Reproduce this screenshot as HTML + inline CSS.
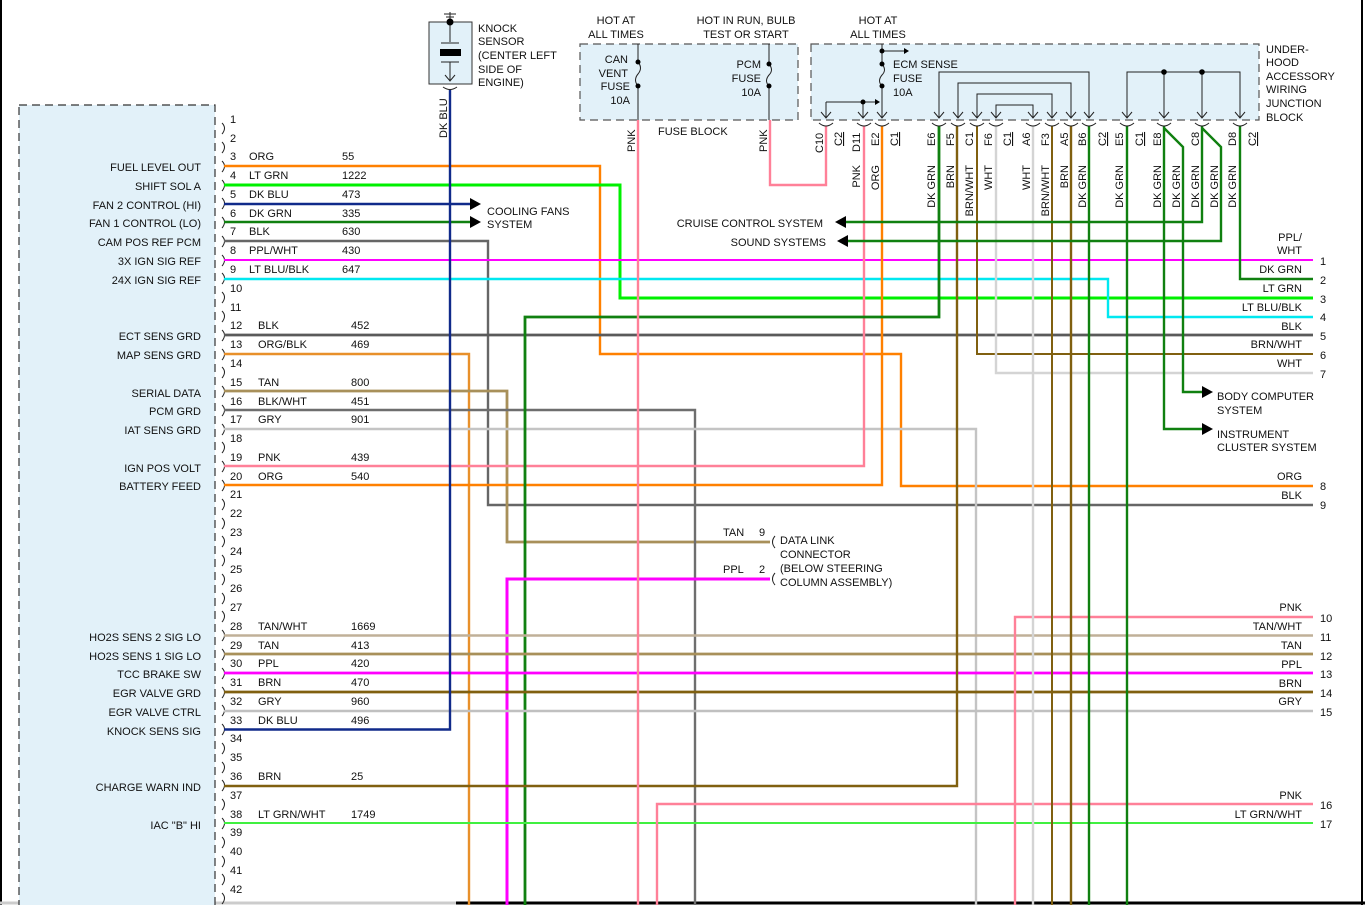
<!DOCTYPE html>
<html><head><meta charset="utf-8"><style>
html,body{margin:0;padding:0;background:#fff;}
svg{display:block;}
text{font-family:"Liberation Sans",sans-serif;font-size:11px;fill:#111;}
.r{text-anchor:end;}
.m{text-anchor:middle;}
.w{fill:none;stroke-width:2.4;}
</style></head><body>
<svg width="1365" height="905" viewBox="0 0 1365 905" xmlns="http://www.w3.org/2000/svg">
<rect x="0" y="0" width="1365" height="905" fill="#fff"/>
<!-- borders -->
<line x1="1" y1="0" x2="1" y2="905" stroke="#000" stroke-width="2"/>
<line x1="1362" y1="0" x2="1362" y2="905" stroke="#000" stroke-width="2"/>
<line x1="0" y1="903" x2="456" y2="903" stroke="#ccc" stroke-width="3"/>
<line x1="456" y1="903" x2="1365" y2="903" stroke="#000" stroke-width="3"/>

<!-- PCM box -->
<rect x="19" y="105" width="196" height="810" fill="#e2f1f9" stroke="#333" stroke-width="1.2" stroke-dasharray="8,5"/>
<!-- fuse block box -->
<rect x="580" y="44" width="218" height="76" fill="#e2f1f9" stroke="#555" stroke-width="1.2" stroke-dasharray="8,5"/>
<!-- underhood box -->
<rect x="811" y="44" width="448" height="76" fill="#e2f1f9" stroke="#555" stroke-width="1.2" stroke-dasharray="8,5"/>
<!-- knock sensor box -->
<rect x="429" y="22" width="43" height="62" fill="#e2f1f9" stroke="#333" stroke-width="1"/>

<!-- left pin notches -->
<g fill="none" stroke="#222" stroke-width="1">
<path d="M222,123 q5,5 0,11 M222,142 q5,5 0,11 M222,161 q5,5 0,11 M222,180 q5,5 0,11 M222,198 q5,5 0,11 M222,217 q5,5 0,11 M222,236 q5,5 0,11 M222,255 q5,5 0,11 M222,273 q5,5 0,11 M222,292 q5,5 0,11 M222,311 q5,5 0,11 M222,330 q5,5 0,11 M222,349 q5,5 0,11 M222,367 q5,5 0,11 M222,386 q5,5 0,11 M222,405 q5,5 0,11 M222,424 q5,5 0,11 M222,442 q5,5 0,11 M222,461 q5,5 0,11 M222,480 q5,5 0,11 M222,499 q5,5 0,11 M222,518 q5,5 0,11 M222,536 q5,5 0,11 M222,555 q5,5 0,11 M222,574 q5,5 0,11 M222,593 q5,5 0,11 M222,611 q5,5 0,11 M222,630 q5,5 0,11 M222,649 q5,5 0,11 M222,668 q5,5 0,11 M222,687 q5,5 0,11 M222,705 q5,5 0,11 M222,724 q5,5 0,11 M222,743 q5,5 0,11 M222,762 q5,5 0,11 M222,780 q5,5 0,11 M222,799 q5,5 0,11 M222,818 q5,5 0,11 M222,837 q5,5 0,11 M222,856 q5,5 0,11 M222,874 q5,5 0,11 M222,893 q5,5 0,11"/>
</g>

<!-- wires -->
<g class="w">
<polyline points="224,166 600,166 600,354 901,354 901,486 1313,486" stroke="#ff8000"/>
<polyline points="224,185 620,185 620,298 1313,298" stroke="#00f000" stroke-width="3"/>
<polyline points="224,204 472,204" stroke="#102a8a"/>
<polyline points="224,222 472,222" stroke="#108010"/>
<polyline points="224,241 488,241 488,505 1313,505" stroke="#666"/>
<polyline points="224,260 1313,260" stroke="#ff00ff" stroke-width="2"/>
<polyline points="224,279 1108,279 1108,317 1313,317" stroke="#00e8f0"/>
<polyline points="224,335 1313,335" stroke="#5a5a5a" stroke-width="2.8"/>
<polyline points="224,354 469,354 469,905" stroke="#e8902a"/>
<polyline points="224,391 507,391 507,542 770,542" stroke="#a8905a" stroke-width="2.8"/>
<polyline points="224,410 695,410 695,905" stroke="#6e6e6e"/>
<polyline points="224,429 976,429 976,905" stroke="#c4c4c4"/>
<polyline points="224,466 864,466 864,126" stroke="#ff8098"/>
<polyline points="224,485 882,485 882,126" stroke="#ff8000"/>
<polyline points="939,126 939,317 525,317 525,905" stroke="#108010" stroke-width="2.8"/>
<polyline points="770,579 507,579 507,905" stroke="#ff00ff" stroke-width="3"/>
<polyline points="224,635.5 1313,635.5" stroke="#c0b098"/>
<polyline points="224,654 1313,654" stroke="#a8905a" stroke-width="2.8"/>
<polyline points="224,673 1313,673" stroke="#ff00ff" stroke-width="2.8"/>
<polyline points="224,692 1313,692" stroke="#806010" stroke-width="2.8"/>
<polyline points="224,711 1313,711" stroke="#c0c0c0"/>
<polyline points="224,729.5 450,729.5 450,90" stroke="#102a8a"/>
<polyline points="224,786 957,786 957,126" stroke="#806010"/>
<polyline points="224,823 1313,823" stroke="#40f040" stroke-width="2"/>
<polyline points="657,905 657,804 1313,804" stroke="#ff8098"/>
<polyline points="1015,905 1015,617 1313,617" stroke="#ff8098"/>
<polyline points="977,126 977,354 1313,354" stroke="#806010" stroke-width="2"/>
<polyline points="996,126 996,373 1313,373" stroke="#d4d4d4"/>
<polyline points="1033,126 1033,905" stroke="#d4d4d4"/>
<polyline points="1052,126 1052,905" stroke="#806010" stroke-width="2"/>
<polyline points="1071,126 1071,905" stroke="#806010"/>
<polyline points="1089,126 1089,905" stroke="#108010"/>
<polyline points="1127,126 1127,905" stroke="#108010"/>
<polyline points="1164,126 1164,429 1203,429" stroke="#108010"/>
<polyline points="1164,128 1183,147 1183,392 1203,392" stroke="#108010"/>
<polyline points="1202,126 1202,222 846,222" stroke="#108010"/>
<polyline points="1202,128 1221,147 1221,241 848,241" stroke="#108010"/>
<polyline points="1240,126 1240,279 1313,279" stroke="#108010"/>
<polyline points="638,120 638,905" stroke="#ff8098"/>
<polyline points="770,120 770,185 826,185 826,126" stroke="#ff8098"/>
</g>

<!-- arrows -->
<g fill="#000">
<polygon points="470,198 481,204 470,210"/>
<polygon points="470,216 481,222 470,228"/>
<polygon points="846,216 835,222 846,228"/>
<polygon points="848,235 837,241 848,247"/>
<polygon points="1202,386 1213,392 1202,398"/>
<polygon points="1202,423 1213,429 1202,435"/>
</g>

<!-- knock sensor internals -->
<g stroke="#222" stroke-width="1" fill="none">
<line x1="450" y1="12" x2="450" y2="42"/>
<line x1="444" y1="14" x2="456" y2="14"/><line x1="446" y1="17" x2="454" y2="17"/><line x1="448" y1="20" x2="452" y2="20"/>
<line x1="441" y1="43" x2="459" y2="43"/>
<line x1="441" y1="62" x2="459" y2="62"/>
<line x1="450" y1="62" x2="450" y2="80"/>
<path d="M445,75 L450,81 L455,75"/>
<path d="M443,87 q7,5 14,0"/>
</g>
<circle cx="450" cy="22" r="3.5" fill="#000"/>
<rect x="440" y="49" width="21" height="7" fill="#000"/>

<!-- fuse block internals -->
<g stroke="#222" stroke-width="1" fill="none">
<line x1="638" y1="44" x2="638" y2="62"/><path d="M638,62 q5,6 0,12 q-5,6 0,12"/><line x1="638" y1="86" x2="638" y2="120"/>
<line x1="769" y1="44" x2="769" y2="64"/><path d="M769,64 q5,6 0,11 q-5,6 0,11"/><line x1="769" y1="86" x2="769" y2="120"/>
<line x1="882" y1="44" x2="882" y2="64"/><path d="M882,64 q5,6 0,11 q-5,6 0,11"/><line x1="882" y1="86" x2="882" y2="117"/>
<line x1="882" y1="51" x2="904" y2="51"/>
<line x1="826" y1="102" x2="876" y2="102"/>
<line x1="826" y1="102" x2="826" y2="117"/><line x1="863" y1="102" x2="863" y2="117"/>
<!-- junction bars -->
<polyline points="939,117 939,72 1089,72 1089,117"/>
<polyline points="958,117 958,83 1071,83 1071,117"/>
<polyline points="977,117 977,94 1052,94 1052,117"/>
<polyline points="996,117 996,105 1033,105 1033,117"/>
<polyline points="1127,117 1127,72 1240,72 1240,117"/>
<line x1="1164" y1="72" x2="1164" y2="117"/><line x1="1202" y1="72" x2="1202" y2="117"/>
<!-- down arrow chevrons -->
<path d="M821,112 l5,6 l5,-6 M858,112 l5,6 l5,-6 M877,112 l5,6 l5,-6 M934,112 l5,6 l5,-6 M953,112 l5,6 l5,-6 M972,112 l5,6 l5,-6 M991,112 l5,6 l5,-6 M1028,112 l5,6 l5,-6 M1047,112 l5,6 l5,-6 M1066,112 l5,6 l5,-6 M1084,112 l5,6 l5,-6 M1122,112 l5,6 l5,-6 M1159,112 l5,6 l5,-6 M1197,112 l5,6 l5,-6 M1235,112 l5,6 l5,-6"/>
<!-- notches under box -->
<path d="M819,123 q7,6 14,0 M857,123 q7,6 14,0 M875,123 q7,6 14,0 M932,123 q7,6 14,0 M951,123 q7,6 14,0 M970,123 q7,6 14,0 M989,123 q7,6 14,0 M1026,123 q7,6 14,0 M1045,123 q7,6 14,0 M1064,123 q7,6 14,0 M1082,123 q7,6 14,0 M1120,123 q7,6 14,0 M1157,123 q7,6 14,0 M1195,123 q7,6 14,0 M1233,123 q7,6 14,0"/>
<!-- DLC brackets -->
<path d="M775,536 q-5,6 0,12 M775,573 q-5,6 0,12"/>
</g>
<g fill="#000">
<circle cx="638" cy="62" r="2.5"/><circle cx="638" cy="86" r="2.5"/>
<circle cx="769" cy="64" r="2.5"/><circle cx="769" cy="86" r="2.5"/>
<circle cx="882" cy="51" r="2.5"/><circle cx="882" cy="64" r="2.5"/><circle cx="882" cy="86" r="2.5"/>
<circle cx="863" cy="102" r="2.5"/>
<circle cx="1164" cy="72" r="2.8"/><circle cx="1202" cy="72" r="2.8"/>
<polygon points="904,48 909,51 904,54"/>
<polygon points="875,99 880,102 875,105"/>
</g>

<!-- header texts -->
<text x="616" y="24" class="m">HOT AT</text><text x="616" y="38" class="m">ALL TIMES</text>
<text x="746" y="24" class="m">HOT IN RUN, BULB</text><text x="746" y="38" class="m">TEST OR START</text>
<text x="878" y="24" class="m">HOT AT</text><text x="878" y="38" class="m">ALL TIMES</text>
<text x="628" y="63" class="r">CAN</text><text x="628" y="77" class="r">VENT</text><text x="630" y="90" class="r">FUSE</text><text x="630" y="104" class="r">10A</text>
<text x="761" y="68" class="r">PCM</text><text x="761" y="82" class="r">FUSE</text><text x="761" y="96" class="r">10A</text>
<text x="658" y="135">FUSE BLOCK</text>
<text x="893" y="68">ECM SENSE</text><text x="893" y="82">FUSE</text><text x="893" y="96">10A</text>
<text x="1266" y="53">UNDER-</text><text x="1266" y="66">HOOD</text><text x="1266" y="80">ACCESSORY</text><text x="1266" y="93">WIRING</text><text x="1266" y="107">JUNCTION</text><text x="1266" y="121">BLOCK</text>
<text x="478" y="32">KNOCK</text><text x="478" y="45">SENSOR</text><text x="478" y="59">(CENTER LEFT</text><text x="478" y="73">SIDE OF</text><text x="478" y="86">ENGINE)</text>

<!-- rotated labels -->
<g>
<text transform="translate(447,138) rotate(-90)">DK BLU</text>
<text transform="translate(635,152) rotate(-90)">PNK</text>
<text transform="translate(767,152) rotate(-90)">PNK</text>
<text transform="translate(823,153) rotate(-90)">C10</text>
<text transform="translate(842,146) rotate(-90)" text-decoration="underline">C2</text>
<text transform="translate(860,152) rotate(-90)">D11</text>
<text transform="translate(879,146) rotate(-90)">E2</text>
<text transform="translate(898,146) rotate(-90)" text-decoration="underline">C1</text>
<text transform="translate(935,146) rotate(-90)">E6</text>
<text transform="translate(954,146) rotate(-90)">F5</text>
<text transform="translate(973,146) rotate(-90)">C1</text>
<text transform="translate(992,146) rotate(-90)">F6</text>
<text transform="translate(1011,146) rotate(-90)" text-decoration="underline">C1</text>
<text transform="translate(1030,146) rotate(-90)">A6</text>
<text transform="translate(1049,146) rotate(-90)">F3</text>
<text transform="translate(1068,146) rotate(-90)">A5</text>
<text transform="translate(1086,146) rotate(-90)">B6</text>
<text transform="translate(1106,146) rotate(-90)" text-decoration="underline">C2</text>
<text transform="translate(1123,146) rotate(-90)">E5</text>
<text transform="translate(1143,146) rotate(-90)" text-decoration="underline">C1</text>
<text transform="translate(1161,146) rotate(-90)">E8</text>
<text transform="translate(1199,146) rotate(-90)">C8</text>
<text transform="translate(1236,146) rotate(-90)">D8</text>
<text transform="translate(1256,146) rotate(-90)" text-decoration="underline">C2</text>
<text transform="translate(860,165) rotate(-90)" class="r">PNK</text>
<text transform="translate(879,165) rotate(-90)" class="r">ORG</text>
<text transform="translate(935,165) rotate(-90)" class="r">DK GRN</text>
<text transform="translate(954,165) rotate(-90)" class="r">BRN</text>
<text transform="translate(973,165) rotate(-90)" class="r">BRN/WHT</text>
<text transform="translate(992,165) rotate(-90)" class="r">WHT</text>
<text transform="translate(1030,165) rotate(-90)" class="r">WHT</text>
<text transform="translate(1049,165) rotate(-90)" class="r">BRN/WHT</text>
<text transform="translate(1068,165) rotate(-90)" class="r">BRN</text>
<text transform="translate(1086,165) rotate(-90)" class="r">DK GRN</text>
<text transform="translate(1123,165) rotate(-90)" class="r">DK GRN</text>
<text transform="translate(1161,165) rotate(-90)" class="r">DK GRN</text>
<text transform="translate(1180,165) rotate(-90)" class="r">DK GRN</text>
<text transform="translate(1199,165) rotate(-90)" class="r">DK GRN</text>
<text transform="translate(1218,165) rotate(-90)" class="r">DK GRN</text>
<text transform="translate(1236,165) rotate(-90)" class="r">DK GRN</text>
</g>

<!-- system labels -->
<text x="487" y="215">COOLING FANS</text><text x="487" y="228">SYSTEM</text>
<text x="823" y="227" class="r">CRUISE CONTROL SYSTEM</text>
<text x="826" y="246" class="r">SOUND SYSTEMS</text>
<text x="1217" y="400">BODY COMPUTER</text><text x="1217" y="414">SYSTEM</text>
<text x="1217" y="438">INSTRUMENT</text><text x="1217" y="451">CLUSTER SYSTEM</text>
<text x="723" y="536">TAN</text><text x="759" y="536">9</text>
<text x="723" y="573">PPL</text><text x="759" y="573">2</text>
<text x="780" y="544">DATA LINK</text><text x="780" y="558">CONNECTOR</text><text x="780" y="572">(BELOW STEERING</text><text x="780" y="586">COLUMN ASSEMBLY)</text>

<!-- left function labels -->
<g class="r">
<text x="201" y="171" class="r">FUEL LEVEL OUT</text>
<text x="201" y="190" class="r">SHIFT SOL A</text>
<text x="201" y="209" class="r">FAN 2 CONTROL (HI)</text>
<text x="201" y="227" class="r">FAN 1 CONTROL (LO)</text>
<text x="201" y="246" class="r">CAM POS REF PCM</text>
<text x="201" y="265" class="r">3X IGN SIG REF</text>
<text x="201" y="284" class="r">24X IGN SIG REF</text>
<text x="201" y="340" class="r">ECT SENS GRD</text>
<text x="201" y="359" class="r">MAP SENS GRD</text>
<text x="201" y="397" class="r">SERIAL DATA</text>
<text x="201" y="415" class="r">PCM GRD</text>
<text x="201" y="434" class="r">IAT SENS GRD</text>
<text x="201" y="472" class="r">IGN POS VOLT</text>
<text x="201" y="490" class="r">BATTERY FEED</text>
<text x="201" y="641" class="r">HO2S SENS 2 SIG LO</text>
<text x="201" y="660" class="r">HO2S SENS 1 SIG LO</text>
<text x="201" y="678" class="r">TCC BRAKE SW</text>
<text x="201" y="697" class="r">EGR VALVE GRD</text>
<text x="201" y="716" class="r">EGR VALVE CTRL</text>
<text x="201" y="735" class="r">KNOCK SENS SIG</text>
<text x="201" y="791" class="r">CHARGE WARN IND</text>
<text x="201" y="829" class="r">IAC "B" HI</text>
</g>

<!-- pin numbers -->
<g>
<text x="230" y="123">1</text><text x="230" y="142">2</text><text x="230" y="160">3</text><text x="230" y="179">4</text><text x="230" y="198">5</text><text x="230" y="217">6</text><text x="230" y="235">7</text><text x="230" y="254">8</text><text x="230" y="273">9</text>
<text x="230" y="292">10</text><text x="230" y="311">11</text><text x="230" y="329">12</text><text x="230" y="348">13</text><text x="230" y="367">14</text><text x="230" y="386">15</text><text x="230" y="405">16</text><text x="230" y="423">17</text><text x="230" y="442">18</text><text x="230" y="461">19</text><text x="230" y="480">20</text><text x="230" y="498">21</text><text x="230" y="517">22</text><text x="230" y="536">23</text><text x="230" y="555">24</text><text x="230" y="573">25</text><text x="230" y="592">26</text><text x="230" y="611">27</text><text x="230" y="630">28</text><text x="230" y="649">29</text><text x="230" y="667">30</text><text x="230" y="686">31</text><text x="230" y="705">32</text><text x="230" y="724">33</text><text x="230" y="742">34</text><text x="230" y="761">35</text><text x="230" y="780">36</text><text x="230" y="799">37</text><text x="230" y="818">38</text><text x="230" y="836">39</text><text x="230" y="855">40</text><text x="230" y="874">41</text><text x="230" y="893">42</text>
</g>
<!-- pin colors / circuits -->
<g>
<text x="249" y="160">ORG</text><text x="342" y="160">55</text>
<text x="249" y="179">LT GRN</text><text x="342" y="179">1222</text>
<text x="249" y="198">DK BLU</text><text x="342" y="198">473</text>
<text x="249" y="217">DK GRN</text><text x="342" y="217">335</text>
<text x="249" y="235">BLK</text><text x="342" y="235">630</text>
<text x="249" y="254">PPL/WHT</text><text x="342" y="254">430</text>
<text x="249" y="273">LT BLU/BLK</text><text x="342" y="273">647</text>
<text x="258" y="329">BLK</text><text x="351" y="329">452</text>
<text x="258" y="348">ORG/BLK</text><text x="351" y="348">469</text>
<text x="258" y="386">TAN</text><text x="351" y="386">800</text>
<text x="258" y="405">BLK/WHT</text><text x="351" y="405">451</text>
<text x="258" y="423">GRY</text><text x="351" y="423">901</text>
<text x="258" y="461">PNK</text><text x="351" y="461">439</text>
<text x="258" y="480">ORG</text><text x="351" y="480">540</text>
<text x="258" y="630">TAN/WHT</text><text x="351" y="630">1669</text>
<text x="258" y="649">TAN</text><text x="351" y="649">413</text>
<text x="258" y="667">PPL</text><text x="351" y="667">420</text>
<text x="258" y="686">BRN</text><text x="351" y="686">470</text>
<text x="258" y="705">GRY</text><text x="351" y="705">960</text>
<text x="258" y="724">DK BLU</text><text x="351" y="724">496</text>
<text x="258" y="780">BRN</text><text x="351" y="780">25</text>
<text x="258" y="818">LT GRN/WHT</text><text x="351" y="818">1749</text>
</g>

<!-- right labels -->
<g>
<text x="1302" y="241" class="r">PPL/</text><text x="1302" y="254" class="r">WHT</text>
<text x="1302" y="273" class="r">DK GRN</text>
<text x="1302" y="292" class="r">LT GRN</text>
<text x="1302" y="311" class="r">LT BLU/BLK</text>
<text x="1302" y="330" class="r">BLK</text>
<text x="1302" y="348" class="r">BRN/WHT</text>
<text x="1302" y="367" class="r">WHT</text>
<text x="1302" y="480" class="r">ORG</text>
<text x="1302" y="499" class="r">BLK</text>
<text x="1302" y="611" class="r">PNK</text>
<text x="1302" y="630" class="r">TAN/WHT</text>
<text x="1302" y="649" class="r">TAN</text>
<text x="1302" y="668" class="r">PPL</text>
<text x="1302" y="687" class="r">BRN</text>
<text x="1302" y="705" class="r">GRY</text>
<text x="1302" y="799" class="r">PNK</text>
<text x="1302" y="818" class="r">LT GRN/WHT</text>
<text x="1320" y="265">1</text><text x="1320" y="284">2</text><text x="1320" y="303">3</text><text x="1320" y="321">4</text><text x="1320" y="340">5</text><text x="1320" y="359">6</text><text x="1320" y="378">7</text><text x="1320" y="490">8</text><text x="1320" y="509">9</text>
<text x="1320" y="622">10</text><text x="1320" y="641">11</text><text x="1320" y="660">12</text><text x="1320" y="678">13</text><text x="1320" y="697">14</text><text x="1320" y="716">15</text><text x="1320" y="809">16</text><text x="1320" y="828">17</text>
</g>
</svg>
</body></html>
